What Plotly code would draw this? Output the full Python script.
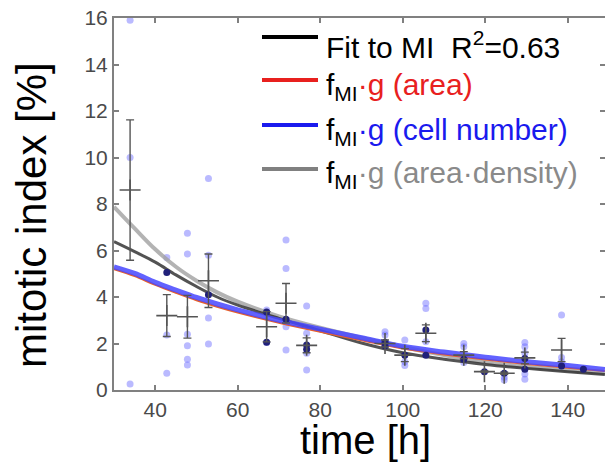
import plotly.graph_objects as go

# ---- measurements: individual samples (mitotic index, %) ----
sample_x = [33.9, 33.9, 33.9,
            42.8, 42.8, 42.8,
            47.8, 47.8, 47.8, 47.8, 47.8, 47.8,
            52.9, 52.9, 52.9, 52.9,
            67.0, 67.0,
            71.7, 71.7, 71.7, 71.7,
            76.7, 76.7, 76.7, 76.7,
            95.7, 95.7,
            100.5, 100.5, 100.5,
            105.6, 105.6, 105.6,
            114.8, 114.8, 114.8,
            124.6, 124.6,
            129.6, 129.6, 129.6, 129.6, 129.6,
            138.5, 138.5, 138.5]
sample_y = [15.9, 10.0, 0.26,
            5.70, 2.37, 0.72,
            6.74, 5.85, 2.40, 1.90, 1.32, 1.08,
            9.10, 5.80, 3.10, 1.98,
            3.44, 2.04,
            6.45, 5.23, 2.72, 1.72,
            3.61, 2.44, 1.58, 0.86,
            2.51, 2.37,
            2.15, 1.22, 1.05,
            3.73, 3.51, 2.08,
            2.00, 1.86, 1.18,
            0.55, 0.43,
            2.04, 1.86, 1.58, 0.69, 0.46,
            3.23, 1.40, 1.22]

# darker single samples
dark_x = [42.8, 52.9, 67.0, 67.0, 71.7, 76.7, 76.7, 95.7, 95.7, 100.5,
          105.6, 105.6, 114.8, 119.8, 124.6, 129.6, 129.6, 138.5, 143.8]
dark_y = [5.05, 4.10, 3.35, 2.05, 3.04, 1.94, 1.75, 2.05, 1.90, 1.50,
          2.58, 1.50, 1.32, 0.79, 0.72, 1.36, 0.89, 1.03, 0.89]

# ---- time-point means with error ----
mean_x = [33.9, 42.8, 47.8, 52.9, 67.0, 71.7, 76.7, 95.7, 100.5, 105.6,
          114.8, 119.8, 124.6, 129.6, 138.5]
mean_y = [8.60, 3.20, 3.15, 4.70, 2.72, 3.73, 1.92, 2.00, 1.50, 2.44,
          1.50, 0.79, 0.72, 1.38, 1.72]
mean_err = [3.02, 0.90, 0.92, 1.15, 0.65, 0.85, 0.32, 0.15, 0.28, 0.36,
            0.15, 0.03, 0.05, 0.25, 0.50]

# ---- model curves ----
curve_t = [30, 35, 40, 45, 50, 55, 60, 70, 80, 90, 100, 110, 120, 130, 140, 149]
fit_mi = [6.38, 5.95, 5.50, 4.95, 4.45, 4.00, 3.65, 3.08, 2.55, 2.02,
          1.60, 1.32, 1.10, 0.93, 0.79, 0.67]
g_area = [5.20, 4.90, 4.52, 4.18, 3.86, 3.58, 3.33, 2.89, 2.50, 2.14,
          1.78, 1.53, 1.31, 1.12, 0.96, 0.82]
g_cells = [5.30, 5.02, 4.63, 4.30, 3.98, 3.70, 3.45, 3.00, 2.62, 2.25,
           1.88, 1.63, 1.41, 1.22, 1.05, 0.88]
g_area_density = [7.88, 6.95, 6.05, 5.30, 4.70, 4.20, 3.80, 3.17, 2.68, 2.25,
                  1.85, 1.50, 1.20, 1.00, 0.85, 0.72]

x_ticks = [40, 60, 80, 100, 120, 140]
y_ticks = [0, 2, 4, 6, 8, 10, 12, 14, 16]

legend_rows = [
    ("Fit to MI  R<sup>2</sup>=0.63", "#000000"),
    ("f<sub>MI</sub><span style=\"color:#e8201e\">·g (area)</span>", "#e8201e"),
    ("f<sub>MI</sub><span style=\"color:#1a1aee\">·g (cell number)</span>", "#1a1aee"),
    ("f<sub>MI</sub><span style=\"color:#8a8a8a\">·g (area·density)</span>", "#808080"),
]

FONT = "Liberation Sans, Arial, sans-serif"

fig = go.Figure()

fig.add_trace(go.Scatter(x=sample_x, y=sample_y, mode="markers",
                         marker=dict(size=7, color="rgba(90,90,255,0.42)"),
                         showlegend=False, hoverinfo="skip"))

fig.add_trace(go.Scatter(x=curve_t, y=g_area_density, mode="lines", line_shape="spline",
                         line=dict(color="rgba(160,160,160,0.8)", width=4), showlegend=False))
fig.add_trace(go.Scatter(x=curve_t, y=fit_mi, mode="lines", line_shape="spline",
                         line=dict(color="rgba(40,40,40,0.8)", width=3), showlegend=False))
fig.add_trace(go.Scatter(x=curve_t, y=g_area, mode="lines", line_shape="spline",
                         line=dict(color="#e8602a", width=2), showlegend=False))
fig.add_trace(go.Scatter(x=curve_t, y=g_cells, mode="lines", line_shape="spline",
                         line=dict(color="rgba(70,70,255,0.85)", width=5), showlegend=False))

fig.add_trace(go.Scatter(x=dark_x, y=dark_y, mode="markers",
                         marker=dict(size=7, color="#20207a"),
                         showlegend=False, hoverinfo="skip"))

fig.add_trace(go.Scatter(x=mean_x, y=mean_y, mode="markers",
                         marker=dict(symbol="cross-thin", size=15,
                                     line=dict(width=1.6, color="#555555")),
                         error_y=dict(type="data", array=mean_err, color="#555555",
                                      thickness=1.4, width=4),
                         showlegend=False))

# legend drawn in paper coordinates
PLOT_L, PLOT_R, PLOT_T, PLOT_B = 114, 605, 18, 390


def px_x(p):
    return (p - PLOT_L) / (PLOT_R - PLOT_L)


def px_y(p):
    return (PLOT_B - p) / (PLOT_B - PLOT_T)


line_ys = [37, 80, 125, 169]
text_ys = [45, 87, 131, 175]
for (label, col), ly, ty in zip(legend_rows, line_ys, text_ys):
    fig.add_shape(type="line", xref="paper", yref="paper",
                  x0=px_x(262), x1=px_x(318), y0=px_y(ly), y1=px_y(ly),
                  line=dict(color=col, width=4))
    fig.add_annotation(xref="paper", yref="paper", x=px_x(324), y=px_y(ty),
                       xanchor="left", yanchor="middle", showarrow=False,
                       text=label, font=dict(family=FONT, size=30, color="#000000"))

# axis titles
fig.add_annotation(xref="paper", yref="paper", x=px_x(365.5), y=px_y(440),
                   xanchor="center", yanchor="middle", showarrow=False,
                   text="time [h]", font=dict(family=FONT, size=40, color="#000000"))
fig.add_annotation(xref="paper", yref="paper", x=px_x(31), y=px_y(215),
                   xanchor="center", yanchor="middle", showarrow=False, textangle=-90,
                   text="mitotic index [%]", font=dict(family=FONT, size=42, color="#000000"))

axis_common = dict(showline=True, linecolor="#808080", linewidth=2, mirror="ticks",
                   ticks="inside", ticklen=5, tickwidth=1.5, tickcolor="#808080",
                   showgrid=False, zeroline=False,
                   tickfont=dict(family=FONT, size=21, color="#4a4a4a"))

fig.update_layout(
    width=605, height=463,
    margin=dict(l=PLOT_L, r=605 - PLOT_R, t=PLOT_T, b=463 - PLOT_B, autoexpand=False),
    paper_bgcolor="white", plot_bgcolor="white",
    showlegend=False,
    xaxis=dict(range=[30, 30 + (PLOT_R - PLOT_L) / 4.125], tickvals=x_ticks, **axis_common),
    yaxis=dict(range=[0, 16], tickvals=y_ticks, **axis_common),
)

fig.write_html("out.html")
